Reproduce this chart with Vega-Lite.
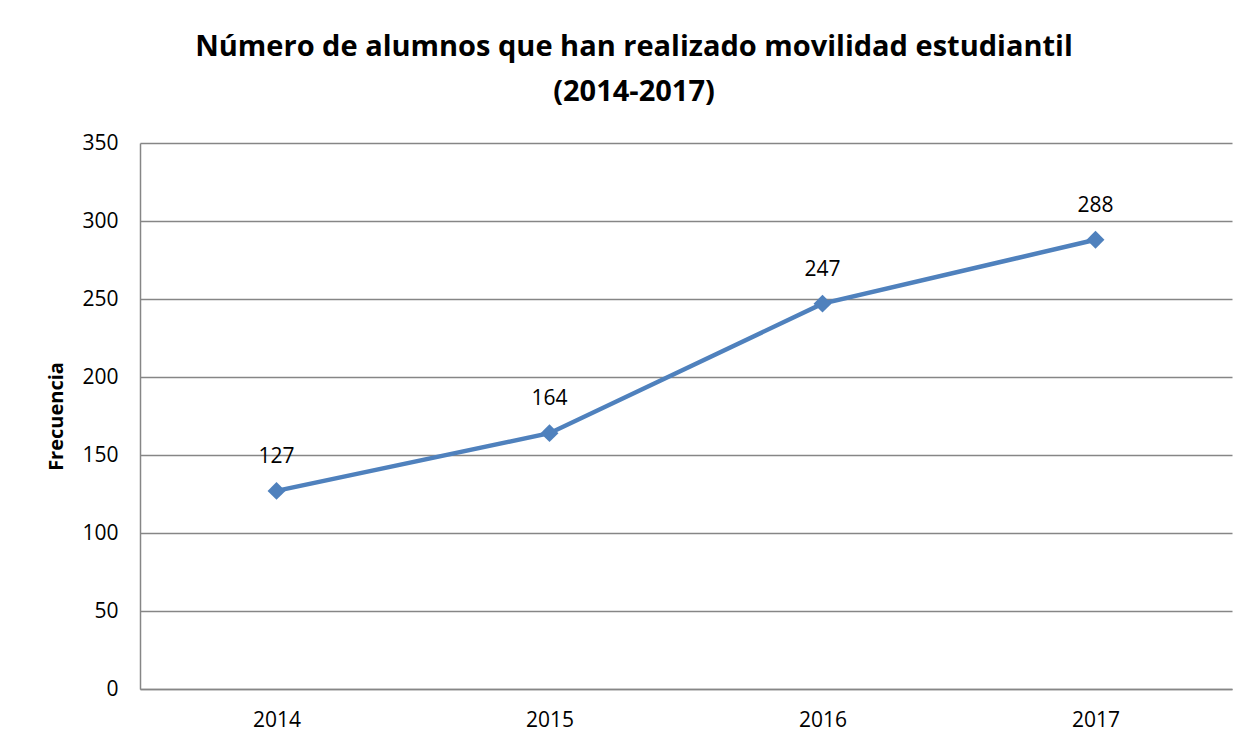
{
  "$schema": "https://vega.github.io/schema/vega-lite/v6.json",
  "autosize": "none",
  "width": 1092,
  "height": 546,
  "padding": {"left": 140, "top": 143, "right": 25, "bottom": 58},
  "background": "white",
  "title": {
    "text": ["Número de alumnos que han realizado movilidad estudiantil", "(2014-2017)"],
    "font": "Open Sans",
    "fontSize": 29,
    "fontWeight": "bold",
    "color": "#000000",
    "anchor": "middle",
    "dx": -52,
    "lineHeight": 45,
    "offset": 25
  },
  "data": {
    "values": [
      {"anio": "2014", "frecuencia": 127},
      {"anio": "2015", "frecuencia": 164},
      {"anio": "2016", "frecuencia": 247},
      {"anio": "2017", "frecuencia": 288}
    ]
  },
  "encoding": {
    "x": {
      "field": "anio",
      "type": "ordinal",
      "scale": {"type": "point", "padding": 0.5},
      "axis": {
        "title": null,
        "labelAngle": 0,
        "ticks": false,
        "grid": false,
        "domainColor": "#868686",
        "domainWidth": 1.5,
        "labelFont": "Open Sans",
        "labelFontSize": 21,
        "labelColor": "#000000",
        "labelBaseline": "middle",
        "labelPadding": 31
      }
    },
    "y": {
      "field": "frecuencia",
      "type": "quantitative",
      "scale": {"domain": [0, 350]},
      "axis": {
        "title": "Frecuencia",
        "titleFont": "Open Sans",
        "titleFontSize": 20,
        "titleFontWeight": "bold",
        "titleColor": "#000000",
        "titleX": -84,
        "titleY": 273,
        "titleAngle": -90,
        "titleBaseline": "middle",
        "titleAlign": "center",
        "values": [0, 50, 100, 150, 200, 250, 300, 350],
        "ticks": false,
        "grid": true,
        "gridColor": "#868686",
        "gridWidth": 1.3,
        "gridOpacity": 1,
        "domainColor": "#868686",
        "domainWidth": 1.5,
        "labelFont": "Open Sans",
        "labelFontSize": 21,
        "labelColor": "#000000",
        "labelPadding": 22
      }
    }
  },
  "layer": [
    {
      "mark": {"type": "line", "color": "#4F81BD", "strokeWidth": 4.5}
    },
    {
      "mark": {"type": "point", "shape": "diamond", "filled": true, "color": "#4F81BD", "opacity": 1, "size": 320}
    },
    {
      "mark": {"type": "text", "font": "Open Sans", "fontSize": 21, "color": "#000000", "baseline": "middle", "dy": -34},
      "encoding": {"text": {"field": "frecuencia", "type": "quantitative"}}
    }
  ],
  "config": {"view": {"stroke": null}}
}
